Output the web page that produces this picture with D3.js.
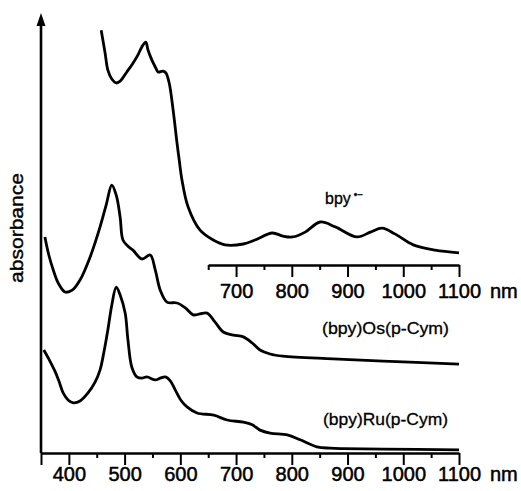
<!DOCTYPE html>
<html>
<head>
<meta charset="utf-8">
<script src="https://cdn.jsdelivr.net/npm/d3@7"></script>
<style>
  body { margin: 0; background: #fff; }
  svg { display: block; }
  text { font-family: "Liberation Sans", Arial, sans-serif; fill: #000; }
</style>
</head>
<body>
<svg id="chart" width="521" height="491"></svg>
<script>
// bpy radical anion (top trace, with its own inset axis)
const bpyNm  = [458, 465, 470, 477, 485, 492, 504, 515, 524, 531, 538, 542, 549, 556, 560, 569, 574, 580, 587, 594, 598, 603, 614, 635, 659, 680, 713, 734, 765, 784, 802, 824, 851, 878, 917, 941, 962, 985, 1018, 1057, 1100];
const bpyAbs = [96.1, 90.9, 87.0, 85.0, 84.1, 84.5, 86.6, 88.6, 90.5, 92.3, 93.4, 91.6, 89.3, 87.5, 86.6, 86.8, 86.4, 84.1, 78.0, 70.5, 66.6, 62.0, 55.9, 50.7, 48.4, 47.3, 47.5, 48.4, 50.0, 49.3, 49.1, 50.2, 52.5, 51.4, 49.1, 50.2, 51.1, 49.8, 47.3, 46.1, 45.5];

// (bpy)Os(p-Cym)
const osNm  = [357, 364, 372, 381, 393, 406, 420, 438, 456, 467, 477, 485, 492, 497, 506, 515, 531, 546, 555, 564, 576, 594, 609, 623, 635, 648, 662, 677, 695, 713, 729, 743, 761, 784, 874, 964, 1100];
const osAbs = [49.1, 45.0, 41.6, 38.6, 36.6, 37.0, 39.3, 44.5, 51.4, 56.4, 60.9, 58.6, 53.6, 48.4, 47.0, 46.1, 44.1, 45.0, 41.6, 37.0, 34.3, 34.1, 33.0, 31.4, 31.6, 31.8, 29.8, 27.5, 26.8, 26.4, 25.0, 23.4, 22.5, 22.0, 21.4, 20.9, 20.2];

// (bpy)Ru(p-Cym)
const ruNm  = [355, 366, 375, 382, 390, 399, 408, 420, 434, 447, 456, 463, 470, 477, 485, 492, 501, 506, 513, 522, 531, 540, 555, 564, 573, 582, 591, 601, 612, 630, 660, 684, 713, 729, 743, 761, 792, 815, 845, 869, 892, 964, 1100];
const ruAbs = [23.4, 20.9, 18.6, 16.4, 13.6, 12.0, 11.4, 11.8, 13.6, 16.1, 18.9, 23.0, 28.0, 33.6, 37.7, 35.9, 31.8, 25.7, 19.5, 17.3, 17.0, 17.3, 16.6, 17.0, 17.3, 16.4, 14.3, 12.0, 10.5, 9.1, 8.6, 7.5, 7.0, 6.4, 5.2, 4.5, 4.1, 3.0, 1.4, 1.1, 1.0, 0.9, 0.7];

const mainTicks  = d3.range(350, 1101, 50);
const insetTicks = d3.range(650, 1101, 50);
const labelTicks = [400, 500, 600, 700, 800, 900, 1000, 1100];

const svg = d3.select('#chart');

const x = d3.scaleLinear([350, 1100], [41, 459]);
const y = d3.scaleLinear([0, 100], [453, 13]);

const xInset = d3.scaleLinear([650, 1100], [x(650), x(1100)]);
const insetY = 265;

const line = d3.line()
  .x(d => x(d[0]))
  .y(d => y(d[1]))
  .curve(d3.curveCatmullRom.alpha(0.5));

const series = [
  d3.zip(bpyNm, bpyAbs),
  d3.zip(osNm, osAbs),
  d3.zip(ruNm, ruAbs)
];

svg.selectAll('path.trace')
  .data(series)
  .join('path')
  .attr('class', 'trace')
  .attr('d', line)
  .attr('fill', 'none')
  .attr('stroke', '#000')
  .attr('stroke-width', 2.8)
  .attr('stroke-linejoin', 'round');

// axis helper: long ticks on hundreds, short ones between
function styleAxis(g, isMajor) {
  g.select('.domain').attr('stroke-width', 2.6).attr('stroke', '#000');
  g.selectAll('.tick line')
    .attr('stroke', '#000')
    .attr('stroke-width', 2)
    .attr('y2', d => isMajor(d) ? 12 : 5);
  g.selectAll('.tick text')
    .attr('dy', 0)
    .style('font-size', '20px')
    .style('stroke', '#000')
    .style('stroke-width', '0.5px');
}

const bottomAxis = d3.axisBottom(x)
  .tickValues(mainTicks)
  .tickSizeOuter(0)
  .tickFormat(d => labelTicks.includes(d) ? d : '');

svg.append('g')
  .attr('transform', `translate(0,${y(0)})`)
  .call(bottomAxis)
  .call(g => styleAxis(g, d => d % 100 === 0 || d === 350))
  .call(g => g.selectAll('.tick text').attr('y', 28));

const insetAxis = d3.axisBottom(xInset)
  .tickValues(insetTicks)
  .tickSizeOuter(0)
  .tickFormat(d => labelTicks.includes(d) ? d : '');

svg.append('g')
  .attr('transform', `translate(0,${insetY})`)
  .call(insetAxis)
  .call(g => styleAxis(g, d => d % 100 === 0))
  .call(g => g.selectAll('.tick text').attr('y', 33));

// y axis with arrow head
const leftAxis = d3.axisLeft(y).tickValues([]).tickSizeOuter(0);
svg.append('g')
  .attr('transform', `translate(${x(350)},0)`)
  .call(leftAxis)
  .call(g => g.select('.domain').attr('stroke-width', 2.6).attr('stroke', '#000').attr('d', `M0,${y(0)}V${y(100) + 10}`));

svg.append('path')
  .attr('d', `M${x(350)},${y(100)}L${x(350) - 4.5},${y(100) + 13}L${x(350) + 4.5},${y(100) + 13}Z`)
  .attr('fill', '#000');

// unit labels
svg.append('text').attr('x', 490).attr('y', 481).style('font-size', '20px')
  .style('stroke', '#000').style('stroke-width', '0.5px').text('nm');
svg.append('text').attr('x', 490).attr('y', 298).style('font-size', '20px')
  .style('stroke', '#000').style('stroke-width', '0.5px').text('nm');

// y title
svg.append('text')
  .attr('transform', 'translate(23,228) rotate(-90)')
  .attr('text-anchor', 'middle')
  .attr('textLength', 110)
  .attr('lengthAdjust', 'spacingAndGlyphs')
  .style('font-size', '19px')
  .style('stroke', '#000').style('stroke-width', '0.4px')
  .text('absorbance');

// trace labels
const bpyLabel = svg.append('text')
  .attr('x', 325).attr('y', 204)
  .style('font-size', '16px')
  .style('stroke', '#000').style('stroke-width', '0.3px');
bpyLabel.append('tspan').text('bpy');
bpyLabel.append('tspan').attr('dx', 3).attr('dy', -6).style('font-size', '10px').text('•−');

svg.append('text')
  .attr('x', 322).attr('y', 334)
  .attr('textLength', 127).attr('lengthAdjust', 'spacingAndGlyphs')
  .style('font-size', '16px')
  .style('stroke', '#000').style('stroke-width', '0.3px')
  .text('(bpy)Os(p-Cym)');

svg.append('text')
  .attr('x', 323).attr('y', 425)
  .attr('textLength', 125).attr('lengthAdjust', 'spacingAndGlyphs')
  .style('font-size', '16px')
  .style('stroke', '#000').style('stroke-width', '0.3px')
  .text('(bpy)Ru(p-Cym)');
</script>
</body>
</html>
